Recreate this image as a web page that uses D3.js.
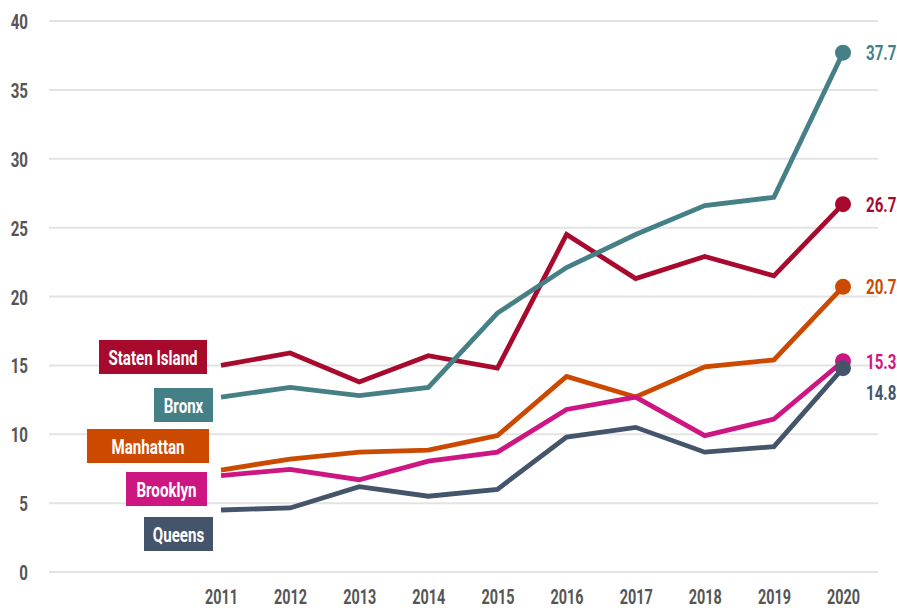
<!DOCTYPE html>
<html>
<head>
<meta charset="utf-8">
<script src="https://cdn.jsdelivr.net/npm/d3@7"></script>
<style>
  html, body { margin: 0; padding: 0; background: #fff; }
  svg { display: block; }
  text { font-family: Roboto, "DejaVu Sans", sans-serif; font-weight: 700; }
</style>
</head>
<body>
<svg id="chart" width="897" height="610"></svg>
<script>
// Years on the x axis
const years = [2011, 2012, 2013, 2014, 2015, 2016, 2017, 2018, 2019, 2020];
const yTicks = [0, 5, 10, 15, 20, 25, 30, 35, 40];

// Borough series (rate per year)
const statenIsland = [15.0, 15.9, 13.8, 15.7, 14.8, 24.5, 21.3, 22.9, 21.5, 26.7];
const bronx        = [12.7, 13.4, 12.8, 13.4, 18.8, 22.1, 24.5, 26.6, 27.2, 37.7];
const manhattan    = [7.4, 8.2, 8.7, 8.85, 9.9, 14.2, 12.7, 14.9, 15.4, 20.7];
const brooklyn     = [7.0, 7.45, 6.7, 8.05, 8.7, 11.8, 12.7, 9.9, 11.1, 15.3];
const queens       = [4.5, 4.65, 6.2, 5.5, 6.0, 9.8, 10.5, 8.7, 9.1, 14.8];

const seriesNames = ["Staten Island", "Bronx", "Manhattan", "Brooklyn", "Queens"];
const seriesValues = [statenIsland, bronx, manhattan, brooklyn, queens];

// Colours and label placement per series
const colors = {
  "Staten Island": "#a80a2e",
  "Bronx": "#458087",
  "Manhattan": "#cc4a00",
  "Brooklyn": "#cd1682",
  "Queens": "#44546a"
};
const tagBoxes = {
  "Staten Island": { x0: 99,  x1: 207, cy: 357 },
  "Bronx":         { x0: 154, x1: 213, cy: 405 },
  "Manhattan":     { x0: 87,  x1: 209, cy: 446 },
  "Brooklyn":      { x0: 126, x1: 207, cy: 489 },
  "Queens":        { x0: 144, x1: 213, cy: 534 }
};
const endLabelDy = { "Staten Island": 0, "Bronx": 0, "Manhattan": 0, "Brooklyn": 0, "Queens": 24 };

// Condensed look: squeeze glyphs horizontally
const squeeze = 0.72;

const svg = d3.select("#chart");

const x = d3.scalePoint().domain(years).range([221, 843]);
const y = d3.scaleLinear().domain([0, 40]).range([572, 21]);

// Gridlines
svg.append("g")
  .selectAll("line")
  .data(yTicks)
  .join("line")
  .attr("x1", 49).attr("x2", 878)
  .attr("y1", d => y(d)).attr("y2", d => y(d))
  .attr("stroke", "#e3e3e3")
  .attr("stroke-width", 2);

// Y axis labels
const yAxis = d3.axisLeft(y).tickValues(yTicks).tickSize(0).tickPadding(0);
svg.append("g")
  .attr("transform", "translate(28,0)")
  .call(yAxis)
  .call(g => g.select(".domain").remove())
  .call(g => g.selectAll("text")
    .attr("fill", "#555")
    .attr("font-size", 21)
    .attr("font-family", null)
    .attr("x", 0)
    .attr("dy", "0.36em")
    .attr("transform", `scale(${squeeze},1)`));

// X axis labels
const xAxis = d3.axisBottom(x).tickSize(0).tickPadding(0).tickFormat(d3.format("d"));
svg.append("g")
  .attr("transform", "translate(0,604)")
  .call(xAxis)
  .call(g => g.select(".domain").remove())
  .call(g => g.selectAll("text")
    .attr("fill", "#555")
    .attr("font-size", 20)
    .attr("font-family", null)
    .attr("y", 0)
    .attr("dy", 0)
    .attr("transform", `scale(${squeeze},1)`));

const line = d3.line()
  .x((d, i) => x(years[i]))
  .y(d => y(d));

function squeezedText(parent, px, py, txt, opts) {
  const g = parent.append("g").attr("transform", `translate(${px},${py}) scale(${squeeze},1)`);
  return g.append("text")
    .attr("x", 0).attr("y", 0)
    .attr("dy", "0.36em")
    .attr("text-anchor", opts.anchor || "start")
    .attr("fill", opts.fill)
    .attr("font-size", opts.size)
    .text(txt);
}

// Draw order puts Queens above Brooklyn at the end point
const drawOrder = ["Staten Island", "Bronx", "Manhattan", "Brooklyn", "Queens"];

drawOrder.forEach(name => {
  const vals = seriesValues[seriesNames.indexOf(name)];
  const c = colors[name];
  svg.append("path")
    .datum(vals)
    .attr("d", line)
    .attr("fill", "none")
    .attr("stroke", c)
    .attr("stroke-width", 4.8)
    .attr("stroke-linejoin", "miter");

  const last = vals[vals.length - 1];
  const endX = x(years[years.length - 1]);
  svg.append("circle")
    .attr("cx", endX)
    .attr("cy", y(last))
    .attr("r", 8)
    .attr("fill", c);

  squeezedText(svg, endX + 23, y(last) + endLabelDy[name], d3.format(".1f")(last),
    { fill: c, size: 21 });

  // Name tag at the start of each line
  const b = tagBoxes[name];
  svg.append("rect")
    .attr("x", b.x0).attr("y", b.cy - 17)
    .attr("width", b.x1 - b.x0).attr("height", 34)
    .attr("fill", c);
  squeezedText(svg, (b.x0 + b.x1) / 2, b.cy, name,
    { fill: "#fff", size: 21, anchor: "middle" });
});
</script>
</body>
</html>
